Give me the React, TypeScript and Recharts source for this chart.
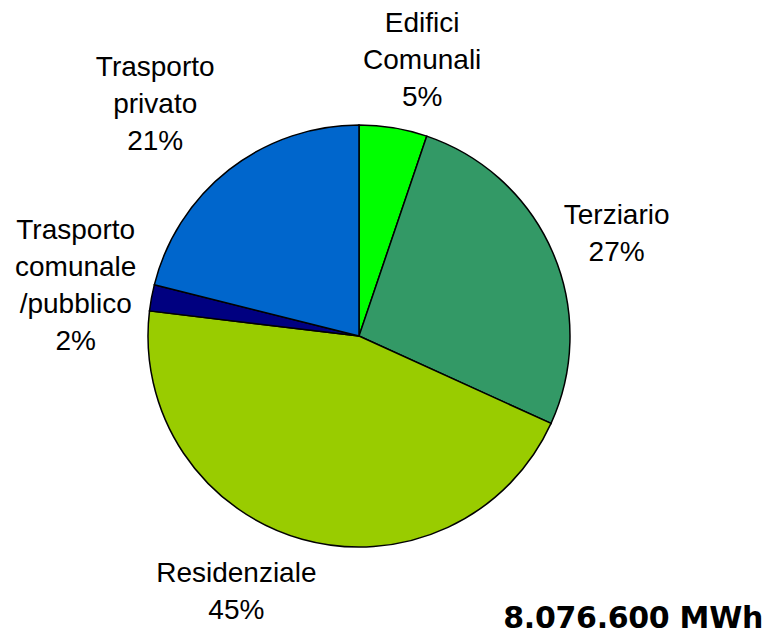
import React from "react";
import { PieChart, Pie, Cell } from "recharts";

const categories = [
  "Edifici\nComunali",
  "Terziario",
  "Residenziale",
  "Trasporto\ncomunale\n/pubblico",
  "Trasporto\nprivato",
];
const shares = [5.2, 26.6, 45.1, 2.0, 21.1];
const colors = ["#00FF00", "#339966", "#99CC00", "#000080", "#0066CC"];
const totalLabel = "8.076.600 MWh";

// label nudges (layout only)
const labelNudge: [number, number][] = [
  [17, 3],
  [-3, 9],
  [-46, -19],
  [-4, 0],
  [-29, -9],
];

const data = categories.map((name, i) => ({ name, value: shares[i] }));

const RAD = Math.PI / 180;

const renderLabel = (props: any) => {
  const { cx, cy, midAngle, outerRadius, percent, index } = props;
  const r = outerRadius + 73;
  const x = cx + r * Math.cos(-midAngle * RAD) + labelNudge[index][0];
  const y = cy + r * Math.sin(-midAngle * RAD) + labelNudge[index][1];
  const lines = [...categories[index].split("\n"), `${Math.round(percent * 100)}%`];
  const lh = 37;
  return (
    <g>
      {lines.map((ln, i) => (
        <text
          key={i}
          x={x}
          y={y + (i - (lines.length - 1) / 2) * lh + 10}
          textAnchor="middle"
          fill="#000"
          fontSize={28}
          fontFamily="'Liberation Sans', Arial, sans-serif"
        >
          {ln}
        </text>
      ))}
    </g>
  );
};

export default function App() {
  return (
    <div style={{ position: "absolute", left: 0, top: 0, width: 767, height: 635, background: "#fff" }}>
      <PieChart width={767} height={635} margin={{ top: 0, right: 0, bottom: 0, left: 0 }}>
        <Pie
          data={data}
          dataKey="value"
          nameKey="name"
          cx={359}
          cy={336}
          outerRadius={211}
          startAngle={90}
          endAngle={-270}
          stroke="#000"
          strokeWidth={1.5}
          label={renderLabel}
          labelLine={false}
          isAnimationActive={false}
        >
          {data.map((d, i) => (
            <Cell key={d.name} fill={colors[i]} />
          ))}
        </Pie>
        <text
          x={763}
          y={628}
          textAnchor="end"
          fontSize={30}
          fontWeight="bold"
          letterSpacing={-0.3}
          fontFamily="'DejaVu Sans', sans-serif"
          fill="#000"
        >
          {totalLabel}
        </text>
      </PieChart>
    </div>
  );
}
